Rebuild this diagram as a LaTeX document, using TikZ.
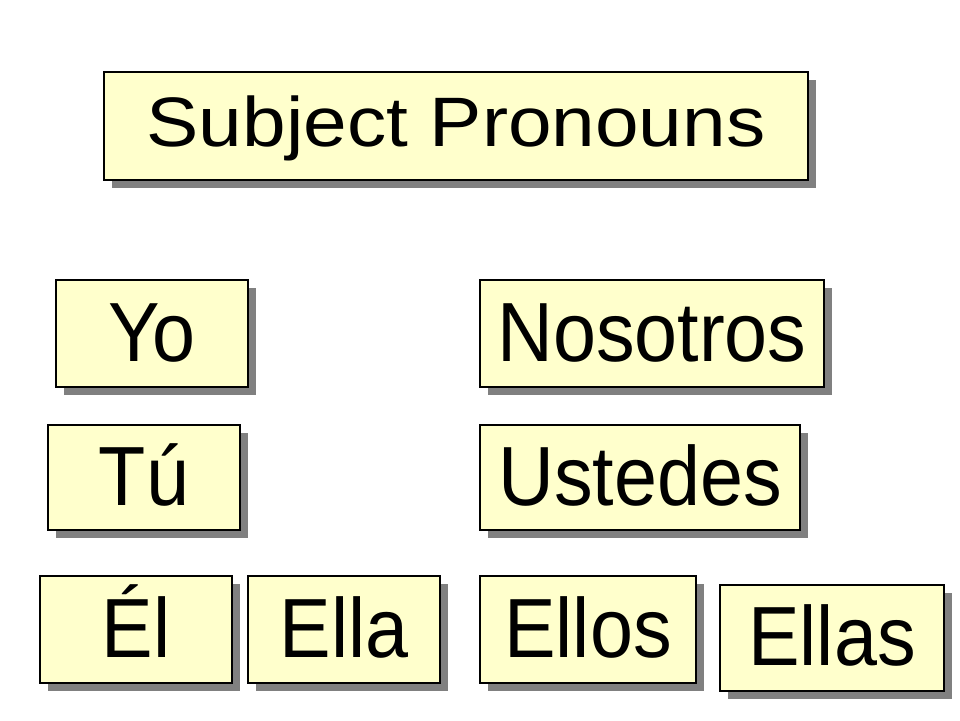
\documentclass[tikz,border=0pt]{standalone}
\usepackage{fontspec}
\setmainfont[FakeStretch=0.92]{Liberation Sans}
\newfontfamily\titlefont[FakeStretch=1.12]{Liberation Sans}
\usetikzlibrary{positioning}
\usetikzlibrary{shadows}

\definecolor{paleyellow}{HTML}{FFFFCC}
\tikzset{
  pron/.style={draw=black, line width=1.2pt, fill=paleyellow, inner sep=2pt, outer sep=0pt,
    minimum height=107pt, text height=60pt, text depth=5pt,
    font=\fontsize{84}{84}\selectfont,
    drop shadow={shadow xshift=8pt, shadow yshift=-8pt, fill=gray, opacity=1}},
  heading/.style={pron, minimum height=108pt, text height=50pt, text depth=10pt,
    font=\titlefont\fontsize{70}{70}\selectfont},
}

\begin{document}
\begin{tikzpicture}[x=1pt,y=-1pt]
				\useasboundingbox (0,0) rectangle (960,720);
				\node[heading, minimum width=704pt](title) at (456,126) {Subject Pronouns};
				\node[pron, minimum width=192pt, below=100pt of title, xshift=-304pt](yo) {Yo};
				\node[pron, minimum width=344pt, right=232pt of yo](nos) {Nosotros};
				\node[pron, minimum width=192pt, minimum height=105pt, below=38pt of yo, xshift=-8pt](tu) {Tú};
				\node[pron, minimum width=320pt, minimum height=105pt, below=38pt of nos, xshift=-12pt](ust) {Ustedes};
				\node[pron, minimum width=192pt, below=46pt of tu, xshift=-8pt](el) {Él};
				\node[pron, minimum width=192pt, right=16pt of el](ella) {Ella};
				\node[pron, minimum width=216pt, below=46pt of ust, xshift=-52pt](ellos) {Ellos};
				\node[pron, minimum width=224pt, minimum height=106pt, right=24pt of ellos, yshift=-8.5pt](ellas) {Ellas};
			\end{tikzpicture}
\end{document}
